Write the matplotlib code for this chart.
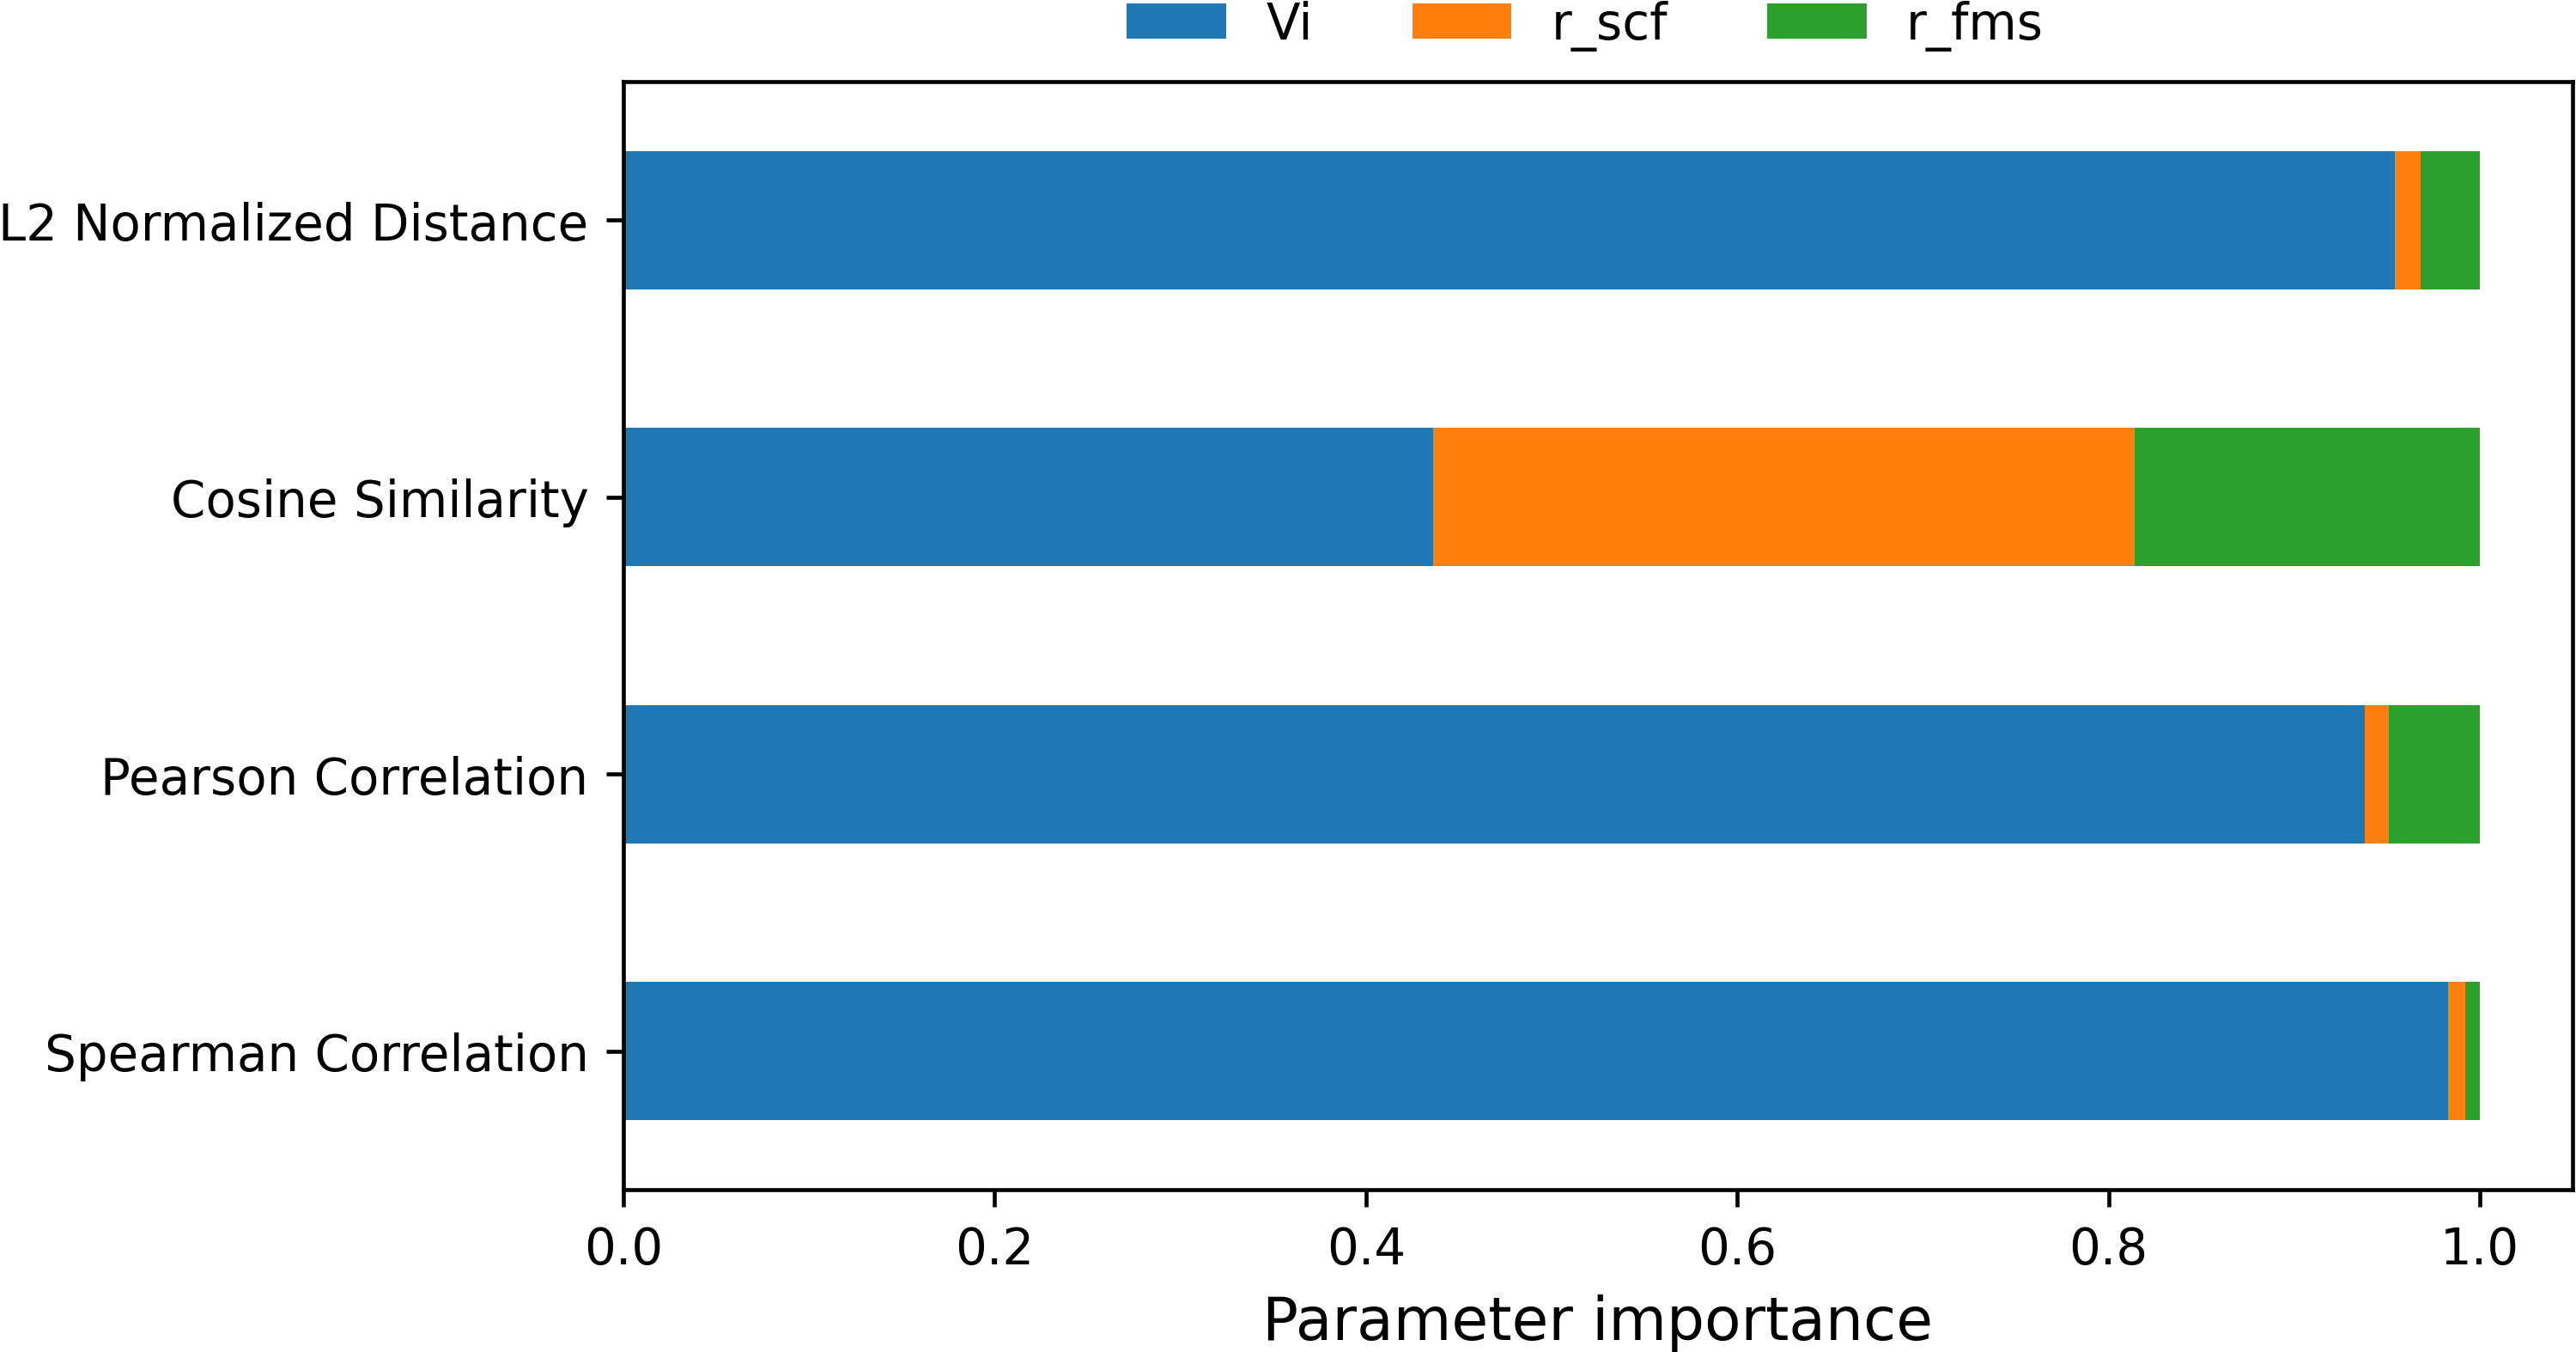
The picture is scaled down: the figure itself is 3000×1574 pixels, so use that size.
import pandas as pd
import matplotlib
matplotlib.use('Agg')
from matplotlib import pyplot as plt

# metrics, bottom to top
metrics = ['Spearman Correlation', 'Pearson Correlation', 'Cosine Similarity', 'L2 Normalized Distance']
vi = [0.983, 0.938, 0.436, 0.954]
r_scf = [0.009, 0.013, 0.378, 0.014]
r_fms = [0.008, 0.049, 0.186, 0.032]

df = pd.DataFrame({'Vi': vi, 'r_scf': r_scf, 'r_fms': r_fms}, index=metrics)

fig = plt.figure(figsize=(7.2, 3.78), dpi=3000 / 7.2)
ax = fig.add_axes([0.242, 0.12, 0.7567, 0.819])
df.plot.barh(stacked=True, ax=ax)

ax.set_xlabel('Parameter importance', fontsize=12)
ax.legend(loc='center', bbox_to_anchor=(0.4934, 1.051), ncol=3, frameon=False)

plt.savefig('out.png', dpi=3000 / 7.2)
